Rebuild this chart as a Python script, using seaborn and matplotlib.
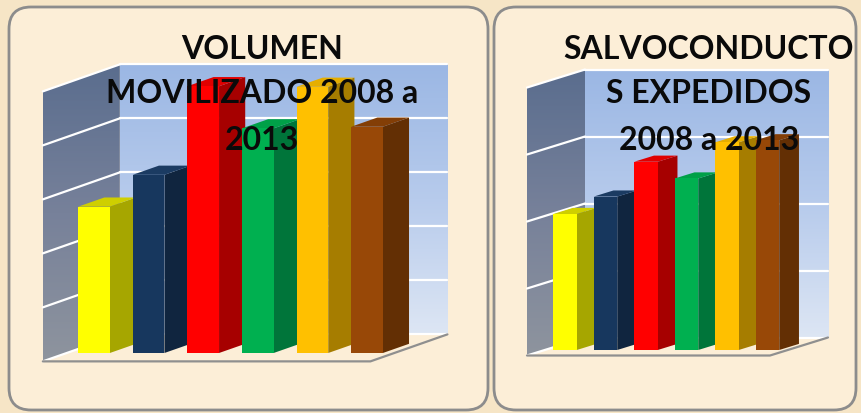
import matplotlib
matplotlib.use("Agg")
import matplotlib.pyplot as plt
import numpy as np
import pandas as pd
import seaborn as sns
from matplotlib.patches import FancyBboxPatch, Polygon
from matplotlib.colors import LinearSegmentedColormap

# ---- data -------------------------------------------------------------
years = ["2008", "2009", "2010", "2011", "2012", "2013"]
volumen = [2.71, 3.30, 4.94, 4.16, 4.93, 4.19]
salvoconductos = [2.03, 2.29, 2.81, 2.56, 3.10, 3.13]

titulo_volumen = ["VOLUMEN", "MOVILIZADO 2008 a", "2013"]
titulo_salvo = ["SALVOCONDUCTO", "S EXPEDIDOS", "2008 a 2013"]

# ---- colours ----------------------------------------------------------
front_colors = ["#FFFF00", "#17375E", "#FF0000", "#00B050", "#FFC000", "#984807"]
side_colors = ["#A6A600", "#10253F", "#A60000", "#00753A", "#A67D00", "#632F04"]
top_colors = ["#CFCF00", "#1B3B62", "#E00000", "#00A048", "#E6AE00", "#833E06"]
back_wall = LinearSegmentedColormap.from_list("back", ["#DDE6F4", "#B7CBEC", "#9BB7E4"])
side_wall = LinearSegmentedColormap.from_list("side", ["#8E949E", "#77819A", "#5A6D8E"])

sns.set_theme(style="white")
plt.rcParams["font.family"] = ["Lato", "DejaVu Sans"]

W, H = 862, 413
fig = plt.figure(figsize=(W / 100, H / 100), dpi=100)
fig.patch.set_facecolor("#F6E5C6")

# background layer in pixel units: the two rounded frames
bg = fig.add_axes([0, 0, 1, 1])
bg.set_xlim(0, W)
bg.set_ylim(H, 0)
bg.axis("off")
for (x, y, w, h) in [(9, 7, 479, 403), (494, 7, 362, 403)]:
    bg.add_patch(FancyBboxPatch((x, y), w, h,
                                boxstyle="round,pad=0,rounding_size=22",
                                fc="#FCEED7", ec="#8C8C8C", lw=2.0))


def draw_panel(values, spec, title_lines, title_cx):
    x0, y0, sx, sy = spec["x0"], spec["y0"], spec["sx"], spec["sy"]
    L, R, T, B = spec["box"]
    ax = fig.add_axes([L / W, 1 - B / H, (R - L) / W, (B - T) / H])
    ax.patch.set_visible(False)

    df = pd.DataFrame({"anio": years, "valor": values})
    sns.barplot(data=df, x="anio", y="valor", hue="anio", palette=front_colors,
                width=0.58, saturation=1, legend=False, ax=ax,
                edgecolor="none", linewidth=0, zorder=5)
    bars = list(ax.patches)

    dX = spec["depth_px"][0] / sx
    dY = spec["depth_px"][1] / sy
    f, bd, n = spec["front"], spec["bar_depth"], spec["levels"]
    xl, xr = -0.5, len(years) - 0.5
    fx, fy = -f * dX, -f * dY          # floor front edge offset
    bx, by = (1 - f) * dX, (1 - f) * dY  # back wall offset

    # back wall with vertical gradient
    grad = np.linspace(0, 1, 256).reshape(-1, 1)
    ax.imshow(grad, extent=[xl + bx, xr + bx, by, n + by], origin="lower",
              cmap=back_wall, aspect="auto", zorder=1)

    # left wall: parallelogram filled with a gradient
    wall = Polygon([(xl + fx, fy), (xl + bx, by), (xl + bx, n + by), (xl + fx, n + fy)],
                   closed=True, fc="none", ec="none")
    ax.add_patch(wall)
    im = ax.imshow(grad, extent=[xl + fx, xl + bx, fy, n + by], origin="lower",
                   cmap=side_wall, aspect="auto", zorder=1)
    im.set_clip_path(wall)

    # gridlines on both walls
    for k in range(n + 1):
        ax.plot([xl + bx, xr + bx], [k + by, k + by], color="white", lw=1.6, zorder=2)
        ax.plot([xl + fx, xl + bx], [k + fy, k + by], color="white", lw=1.6, zorder=2)

    # floor outline
    ax.plot([xl + fx, xr + fx, xr + bx], [fy, fy, by], color="#8F8F8F", lw=1.6,
            zorder=2, solid_joinstyle="miter")

    # depth faces of each bar
    ddx, ddy = bd * dX, bd * dY
    for i, p in enumerate(bars):
        x_l, w, h = p.get_x(), p.get_width(), p.get_height()
        z = 5 + 0.1 * i
        p.set_zorder(z + 0.05)
        ax.add_patch(Polygon([(x_l + w, 0), (x_l + w + ddx, ddy),
                              (x_l + w + ddx, h + ddy), (x_l + w, h)],
                             closed=True, fc=side_colors[i], ec="none", zorder=z))
        ax.add_patch(Polygon([(x_l, h), (x_l + w, h), (x_l + w + ddx, h + ddy),
                              (x_l + ddx, h + ddy)],
                             closed=True, fc=top_colors[i], ec="none", zorder=z))

    ax.set_xlim((L - x0) / sx, (R - x0) / sx)
    ax.set_ylim((y0 - B) / sy, (y0 - T) / sy)
    ax.axis("off")

    for line, base in zip(title_lines, [59, 103, 150]):
        fig.text(title_cx / W, 1 - base / H, line, ha="center", va="baseline",
                 fontsize=23, fontweight="bold", color="#0A0A0A")


spec_vol = dict(x0=94, y0=353, sx=54.6, sy=54, depth_px=(77, 27), front=0.31,
                bar_depth=0.34, levels=5, box=(12, 485, 10, 408))
spec_salvo = dict(x0=565, y0=350, sx=40.5, sy=67, depth_px=(58, 18), front=0.306,
                  bar_depth=0.34, levels=4, box=(497, 855, 10, 408))

draw_panel(volumen, spec_vol, titulo_volumen, 262)
draw_panel(salvoconductos, spec_salvo, titulo_salvo, 709)

fig.savefig("out.png", dpi=100, facecolor=fig.get_facecolor())
